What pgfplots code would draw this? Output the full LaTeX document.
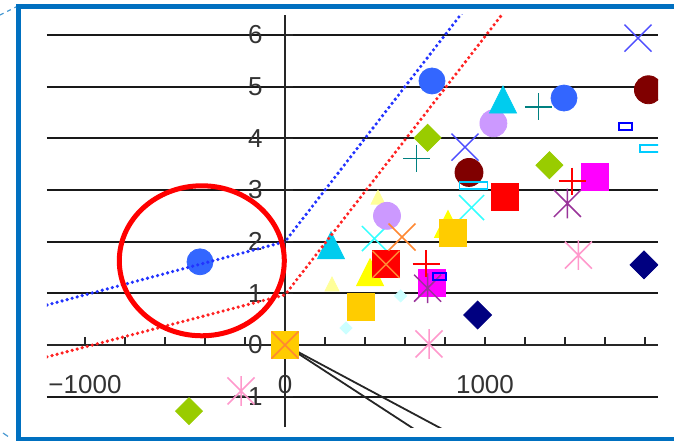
\documentclass[border=0pt]{standalone}
\usepackage{fontspec}
\setmainfont{Liberation Sans}
\usepackage{pgfplots}
\pgfplotsset{compat=1.18}

\definecolor{navyc}{HTML}{000080}
\definecolor{magc}{HTML}{FF00FF}
\definecolor{yelc}{HTML}{FFFF00}
\definecolor{cyanc}{HTML}{33FFFF}
\definecolor{purc}{HTML}{993399}
\definecolor{maroonc}{HTML}{800000}
\definecolor{tealc}{HTML}{008080}
\definecolor{bluec}{HTML}{0000FF}
\definecolor{skyc}{HTML}{00CCFF}
\definecolor{lcyanc}{HTML}{CCFFFF}
\definecolor{pyelc}{HTML}{FFFF99}
\definecolor{pinkc}{HTML}{FF99CC}
\definecolor{lilacc}{HTML}{CC99FF}
\definecolor{royalc}{HTML}{3366FF}
\definecolor{skytri}{HTML}{00CCEE}
\definecolor{greenc}{HTML}{99CC00}
\definecolor{goldc}{HTML}{FFCC00}
\definecolor{orangec}{HTML}{FF8833}
\definecolor{redc}{HTML}{FF0000}
\definecolor{bluex}{HTML}{4D4DFF}
\definecolor{frame}{HTML}{0070C0}
\definecolor{trendb}{HTML}{2233FF}
\definecolor{trendr}{HTML}{FF2222}

% Excel-like marker shapes
\pgfdeclareplotmark{ediam}{%
  \pgfpathmoveto{\pgfqpoint{0pt}{\pgfplotmarksize}}%
  \pgfpathlineto{\pgfqpoint{\pgfplotmarksize}{0pt}}%
  \pgfpathlineto{\pgfqpoint{0pt}{-\pgfplotmarksize}}%
  \pgfpathlineto{\pgfqpoint{-\pgfplotmarksize}{0pt}}%
  \pgfpathclose\pgfusepathqfillstroke}
\pgfdeclareplotmark{etri}{%
  \pgfpathmoveto{\pgfqpoint{0pt}{\pgfplotmarksize}}%
  \pgfpathlineto{\pgfqpoint{\pgfplotmarksize}{-\pgfplotmarksize}}%
  \pgfpathlineto{\pgfqpoint{-\pgfplotmarksize}{-\pgfplotmarksize}}%
  \pgfpathclose\pgfusepathqfillstroke}
\pgfdeclareplotmark{ex}{%
  \pgfpathmoveto{\pgfqpoint{-\pgfplotmarksize}{-\pgfplotmarksize}}%
  \pgfpathlineto{\pgfqpoint{\pgfplotmarksize}{\pgfplotmarksize}}%
  \pgfpathmoveto{\pgfqpoint{-\pgfplotmarksize}{\pgfplotmarksize}}%
  \pgfpathlineto{\pgfqpoint{\pgfplotmarksize}{-\pgfplotmarksize}}%
  \pgfusepathqstroke}
\pgfdeclareplotmark{xstar}{%
  \pgfpathmoveto{\pgfqpoint{-\pgfplotmarksize}{-\pgfplotmarksize}}%
  \pgfpathlineto{\pgfqpoint{\pgfplotmarksize}{\pgfplotmarksize}}%
  \pgfpathmoveto{\pgfqpoint{-\pgfplotmarksize}{\pgfplotmarksize}}%
  \pgfpathlineto{\pgfqpoint{\pgfplotmarksize}{-\pgfplotmarksize}}%
  \pgfpathmoveto{\pgfqpoint{0pt}{-1.1\pgfplotmarksize}}%
  \pgfpathlineto{\pgfqpoint{0pt}{1.1\pgfplotmarksize}}%
  \pgfusepathqstroke}

\begin{document}
\begin{tikzpicture}
\useasboundingbox (0pt,0pt) rectangle (337pt,220pt);
\begin{axis}[
  at={(23.5pt,6.5pt)}, anchor=south west,
  scale only axis, width=305.5pt, height=206pt,
  xmin=-1190, xmax=1865, ymin=-1.587, ymax=6.387,
  axis lines=middle,
  axis line style={-, black!85, line width=0.9pt},
  hide obscured x ticks=false, hide obscured y ticks=false,
  xtick={-1000,-800,...,1800},
  xticklabels={−1000,,,,,0,,,,,1000,,,,},
  ytick={-1,0,...,6},
  yticklabels={−1,0,1,2,3,4,5,6},
  tick align=inside,
  major tick length=4pt,
  tick style={black!85, line width=0.75pt},
  ymajorgrids,
  grid style={black!90, line width=1pt},
  ticklabel style={font=\fontsize{13}{13}\selectfont, inner sep=0pt, text=black!80},
  xticklabel style={anchor=center, yshift=-20pt},
  yticklabel style={anchor=east, xshift=-11pt},
  clip marker paths=true,
]
% two black lines leaving the origin
\addplot[black!85, line width=0.9pt] coordinates {(0,0) (1000,-2.52)};
\addplot[black!85, line width=0.9pt] coordinates {(0,0) (1000,-2.07)};

\addplot[only marks, mark=ediam, mark size=7pt, color=navyc] coordinates {(963,0.58) (1795,1.55)};
\addplot[only marks, mark=square*, mark size=6.75pt, color=magc] coordinates {(733,1.21) (1547,3.26)};
\addplot[only marks, mark=etri, mark size=6.75pt, color=yelc] coordinates {(425,1.41) (815,2.34)};
\addplot[only marks, mark=ex, mark size=6.25pt, color=cyanc, line width=0.75pt] coordinates {(447,2.06) (933,2.66)};
\addplot[only marks, mark=xstar, mark size=6.75pt, color=purc, line width=0.75pt] coordinates {(713,1.10) (1412,2.74)};
\addplot[only marks, mark=*, mark size=7pt, color=maroonc] coordinates {(920,3.34) (1817,4.94)};
\addplot[only marks, mark=+, mark size=6.75pt, color=tealc, line width=0.75pt] coordinates {(658,3.61) (1267,4.61)};
\addplot[only marks, mark=square, mark size=3.25pt, color=bluec, line width=1pt,
  mark options={yscale=0.54}] coordinates {(770,1.33) (1700,4.22)};
\addplot[only marks, mark=square, mark size=7pt, color=skyc, line width=0.9pt,
  mark options={yscale=0.25}] coordinates {(942,3.08) (1845,3.80)};
\addplot[only marks, mark=ediam, mark size=3pt, color=lcyanc] coordinates {(578,0.95) (305,0.33) (-1212,-0.135) (-1212,-0.58)};
\addplot[only marks, mark=etri, mark size=3.5pt, color=pyelc] coordinates {(465,2.86) (235,1.18)};
\addplot[only marks, mark=xstar, mark size=6.75pt, color=pinkc, line width=0.75pt] coordinates {(1467,1.74) (720,0.02) (-220,-0.89)};
\addplot[only marks, mark=*, mark size=6.75pt, color=lilacc] coordinates {(1042,4.29) (510,2.50)};
\addplot[only marks, mark=*, mark size=6.5pt, color=royalc] coordinates {(-425,1.61) (735,5.11) (1395,4.78)};
\addplot[only marks, mark=etri, mark size=6.75pt, color=skytri] coordinates {(230,1.93) (1090,4.75)};
\addplot[only marks, mark=ediam, mark size=6.75pt, color=greenc] coordinates {(713,4.01) (1322,3.48) (-480,-1.28)};
\addplot[only marks, mark=square*, mark size=6.75pt, color=goldc] coordinates {(840,2.17) (380,0.73) (0,0)};
\addplot[only marks, mark=square*, mark size=6.75pt, color=redc] coordinates {(1100,2.87) (505,1.56)};
\addplot[only marks, mark=+, mark size=6.75pt, color=redc, line width=0.75pt] coordinates {(1435,3.17) (705,1.57)};
\addplot[only marks, mark=ex, mark size=6.75pt, color=orangec, line width=0.75pt] coordinates {(585,2.09) (505,1.56) (0,0)};
\addplot[only marks, mark=ex, mark size=6.75pt, color=bluex, line width=0.75pt] coordinates {(900,3.83) (1765,5.94)};

% dotted trend lines
\addplot[color=trendb, line width=1.8pt, line cap=round, dash pattern=on 0pt off 2.6pt]
  coordinates {(-1190,0.775) (0,2) (900,6.5)};
\addplot[color=trendr, line width=1.8pt, line cap=round, dash pattern=on 0pt off 2.6pt]
  coordinates {(-1190,-0.23) (0,0.97) (1100,6.47)};

% annotation ring round the outlying point
\draw[red, line width=2.5pt] (axis cs:-416,1.63) ellipse [x radius=41.25pt, y radius=37.5pt];
\end{axis}
\draw[frame, line width=2.5pt] (9pt,0.5pt) rectangle (360pt,216.5pt);
\draw[frame!70, line width=0.6pt, dash pattern=on 2pt off 2pt] (0pt,212.5pt) -- (8pt,216.5pt);
\draw[frame!70, line width=0.6pt] (1.5pt,3.5pt) -- (4pt,1.8pt);
\end{tikzpicture}
\end{document}
